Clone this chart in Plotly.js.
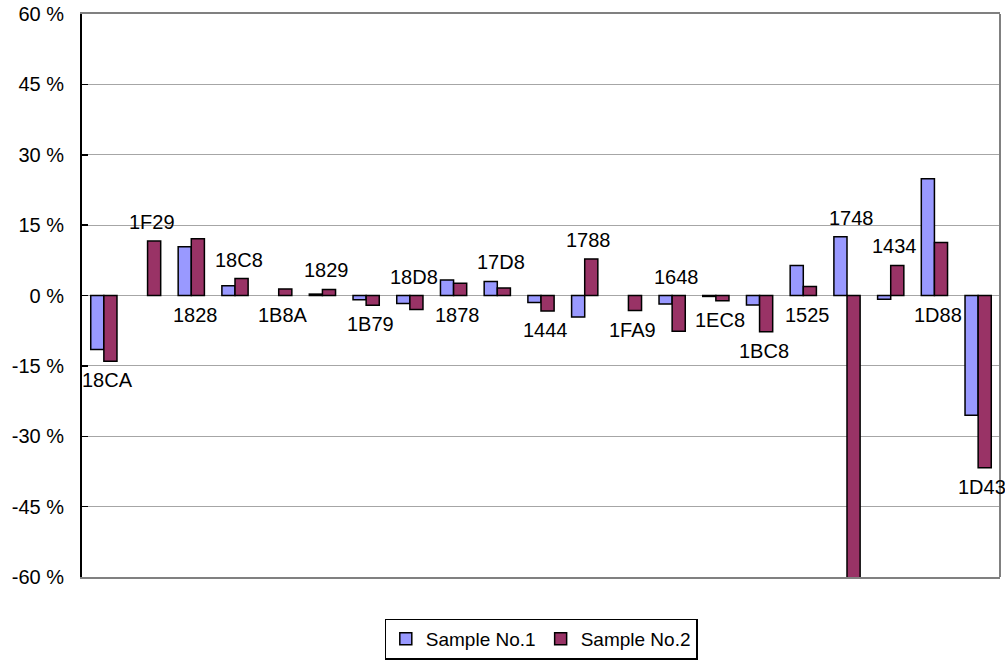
<!DOCTYPE html>
<html>
<head>
<meta charset="utf-8">
<script src="https://cdn.plot.ly/plotly-3.0.1.min.js"></script>
<style>
  html, body { margin: 0; padding: 0; background: #fff; }
  #chart { width: 1005px; height: 662px; }
</style>
</head>
<body>
<div id="chart"></div>
<script>
// Sample codes along the x axis
const codes = ['18CA', '1F29', '1828', '18C8', '1B8A', '1829', '1B79', '18D8', '1878', '17D8',
               '1444', '1788', '1FA9', '1648', '1EC8', '1BC8', '1525', '1748', '1434', '1D88', '1D43'];

// Deviation in percent for each sample
const sample1 = [-11.5, null, 10.4, 2.1, null, 0.3, -0.9, -1.7, 3.3, 3.0,
                 -1.5, -4.6, null, -1.8, -0.2, -2.0, 6.4, 12.5, -0.8, 24.9, -25.5];
const sample2 = [-14.0, 11.6, 12.1, 3.6, 1.4, 1.3, -2.1, -3.0, 2.6, 1.6,
                 -3.3, 7.8, -3.2, -7.6, -1.1, -7.7, 1.9, -61.0, 6.4, 11.3, -36.7];

// Which side of the bar pair each code label sits on
const labelSide = ['below', 'above', 'below', 'above', 'below', 'above', 'below', 'above', 'below', 'above',
                   'below', 'above', 'below', 'above', 'below', 'below', 'below', 'above', 'above', 'below', 'below'];

const seriesNames = ['Sample No.1', 'Sample No.2'];
const yTicks = [-60, -45, -30, -15, 0, 15, 30, 45, 60];
const yTickText = yTicks.map(v => v + ' %');

const FONT = '"Liberation Sans", Arial, sans-serif';
const FS = 20;

const traces = [
  {
    type: 'bar', name: seriesNames[0], x: codes, y: sample1,
    marker: { color: '#9999FF', line: { color: '#000000', width: 1.5 } },
    cliponaxis: false, hoverinfo: 'x+y'
  },
  {
    type: 'bar', name: seriesNames[1], x: codes, y: sample2,
    marker: { color: '#993366', line: { color: '#000000', width: 1.5 } },
    cliponaxis: false, hoverinfo: 'x+y'
  }
];

// Code labels placed just beyond the end of each bar pair.
// x is given as the category index so numeric-looking codes stay on their slot.
const annotations = codes.map((c, i) => {
  const a = sample1[i] ?? 0, b = sample2[i] ?? 0;
  const above = labelSide[i] === 'above';
  return {
    x: i, xref: 'x', yref: 'y',
    y: above ? Math.max(0, a, b) : Math.min(0, a, b),
    text: c, showarrow: false,
    yanchor: above ? 'bottom' : 'top',
    yshift: above ? 6 : -6, xshift: 4,
    font: { family: FONT, size: FS, color: '#000' }
  };
});

const layout = {
  width: 1005, height: 662,
  margin: { l: 82, r: 5, t: 14, b: 85, autoexpand: false },
  paper_bgcolor: '#ffffff', plot_bgcolor: '#ffffff',
  font: { family: FONT, size: FS, color: '#000' },
  barmode: 'group', bargap: 0.4, bargroupgap: 0,
  showlegend: true,
  legend: {
    orientation: 'h', x: 0.5, xanchor: 'center', y: -0.074, yanchor: 'top',
    bordercolor: '#000', borderwidth: 1.3, font: { family: FONT, size: 19 },
    itemwidth: 30, tracegroupgap: 0
  },
  xaxis: {
    type: 'category', range: [-0.5, codes.length - 0.5],
    showticklabels: false, ticks: '', showgrid: false,
    showline: true, linecolor: '#808080', linewidth: 2, mirror: true,
    zeroline: false
  },
  yaxis: {
    range: [-60, 60], tickmode: 'array', tickvals: yTicks, ticktext: yTickText,
    ticks: 'inside', ticklen: 6, tickwidth: 1.5, tickcolor: '#000',
    ticklabelstandoff: 12,
    showgrid: true, gridcolor: '#a6a6a6', gridwidth: 1,
    zeroline: true, zerolinecolor: '#a6a6a6', zerolinewidth: 1,
    showline: true, linecolor: '#000', linewidth: 2,
    tickfont: { family: FONT, size: FS, color: '#000' }
  },
  shapes: [
    { type: 'line', xref: 'paper', yref: 'paper', x0: 1, x1: 1, y0: 0, y1: 1,
      line: { color: '#808080', width: 2 } }
  ],
  annotations: annotations
};

Plotly.newPlot('chart', traces, layout, { displayModeBar: false, staticPlot: true });
</script>
</body>
</html>
